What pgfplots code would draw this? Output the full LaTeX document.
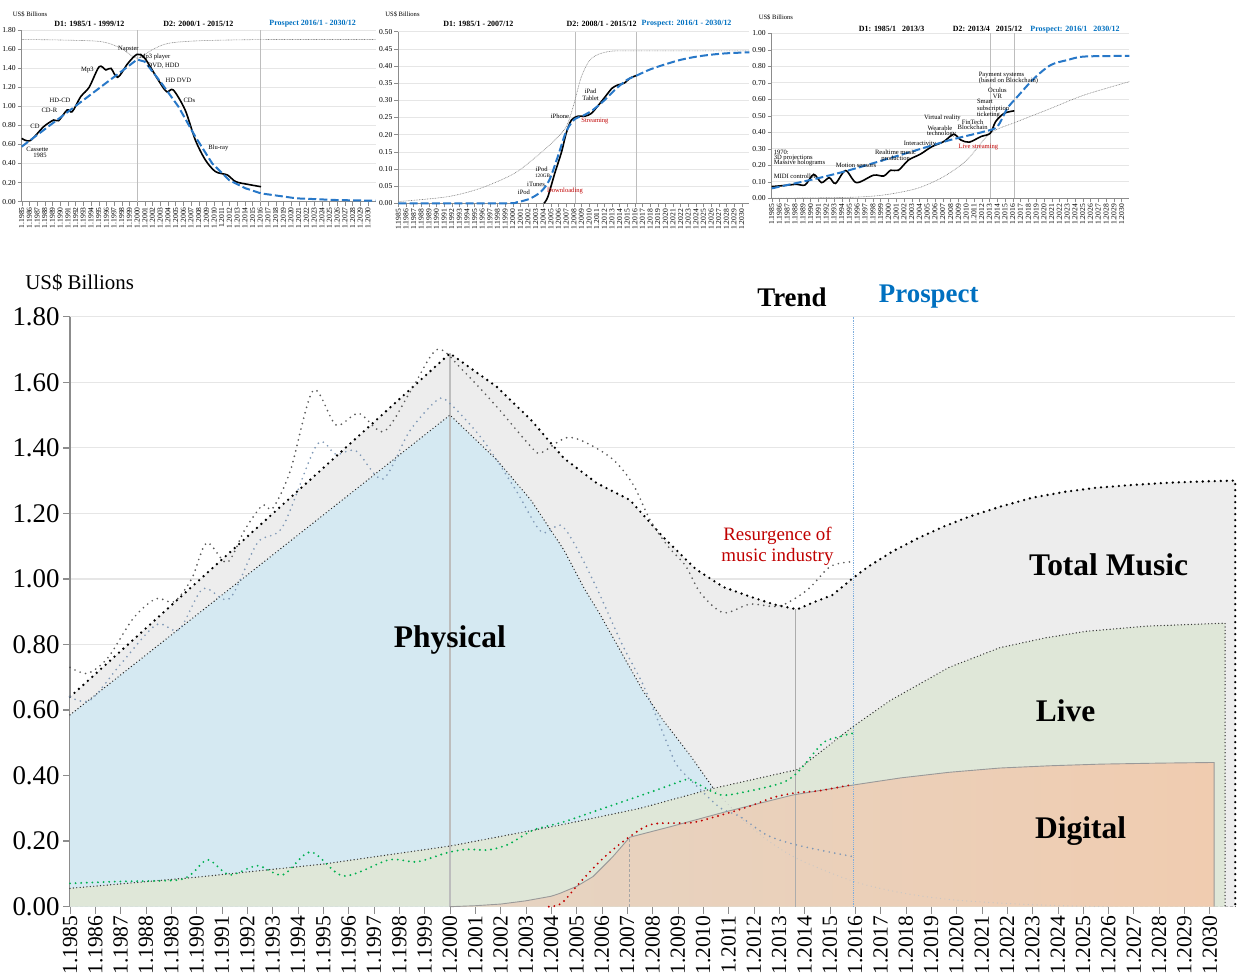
\documentclass[border=0pt]{standalone}
\usepackage{fontspec}
\setmainfont{Liberation Serif}
\usepackage{pgfplots}
\pgfplotsset{compat=1.18}

\definecolor{pblue}{HTML}{0070C0}
\definecolor{dblue}{HTML}{2878C8}
\definecolor{totfill}{HTML}{EDEDED}
\definecolor{physfill}{HTML}{D5E9F2}
\definecolor{livefill}{HTML}{DFE7D8}
\definecolor{digfillA}{HTML}{E5D4C3}
\definecolor{digfillB}{HTML}{F0CCB0}
\definecolor{physline}{HTML}{7F98B6}
\definecolor{liveline}{HTML}{00B050}
\definecolor{digline}{HTML}{C00000}
\definecolor{totline}{HTML}{5A5A5A}
\definecolor{axgray}{HTML}{8C8C8C}
\definecolor{gridc}{HTML}{E6E6E6}
\definecolor{cvline}{HTML}{BDBDBD}
\definecolor{vblue}{HTML}{7FAEDD}

\pgfplotsset{
  mini/.style={
    scale only axis, anchor=south west,
    xmin=1985, xmax=2031, ymin=0,
    axis x line=bottom, axis y line=left,
    axis line style={draw=axgray, line width=0.3bp, -},
    xtick={1985,...,2030}, minor x tick num=11,
    tick align=outside,
    major tick length=2bp, minor tick length=2bp,
    xtick style={draw=axgray, line width=0.12bp},
    ytick style={draw=axgray, line width=0.2bp},
    xticklabel={1.\pgfmathparse{int(round(\tick))}\pgfmathresult},
    x tick label style={rotate=90, anchor=east, font=\fontsize{3.8}{3.8}\selectfont, inner sep=0.6pt},
    y tick label style={font=\fontsize{3.8}{3.8}\selectfont, inner sep=0.8pt},
    yticklabel style={/pgf/number format/.cd, fixed, fixed zerofill, precision=2, assume math mode=true},
    ymajorgrids, grid style={draw=gridc, line width=0.3bp},
    clip=false,
  },
}
\tikzset{
  mtxt/.style={font=\fontsize{3.3}{3.8}\selectfont, inner sep=0pt},
  mtitle/.style={font=\fontsize{4}{4}\selectfont\bfseries, inner sep=0pt},
  bigtxt/.style={font=\fontsize{15.8}{16}\selectfont\bfseries, inner sep=0pt},
}

\begin{document}
\begin{tikzpicture}
\path[use as bounding box] (0,0) rectangle (619.5bp,488bp);

% ================= mini chart 1 : Physical =================
\begin{axis}[mini, at={(10.85bp,387.15bp)}, width=177bp, height=85.85bp, ymax=1.8,
  ytick={0,0.2,0.4,0.6,0.8,1,1.2,1.4,1.6,1.8}]
\addplot[cvline, line width=0.3bp] coordinates {(2000,0) (2000,1.8)};
\addplot[cvline, line width=0.3bp] coordinates {(2016,0) (2016,1.8)};
\addplot[gray, line width=0.3bp, dash pattern=on 0.4bp off 0.4bp, smooth] coordinates {
(1985,1.70) (1990,1.695) (1995.3,1.678) (1997.9,1.608) (2000,1.503) (2001.9,1.59) (2004.05,1.66) (2008.4,1.688) (2017.2,1.70) (2031,1.70)};
\addplot[black, line width=0.8bp, smooth] coordinates {
(1985,0.664) (1986.1,0.64) (1987.85,0.786) (1989.16,0.856) (1989.8,0.849) (1990.9,0.961) (1991.57,0.944) (1992.67,1.101) (1993.76,1.199) (1995.07,1.415) (1995.95,1.381) (1996.6,1.398) (1997.48,1.304) (1998.8,1.45) (2000,1.545) (2001,1.503) (2002.74,1.276) (2003.83,1.153) (2004.7,1.171) (2006.24,0.961) (2007.56,0.647) (2008.87,0.437) (2010.19,0.315) (2011.72,0.28) (2012.81,0.21) (2014.5,0.18) (2016.1,0.157)};
\addplot[dblue, line width=1bp, dash pattern=on 4bp off 1.6bp] coordinates {
(1985,0.577) (2000,1.49) (2001,1.468) (2003.18,1.241) (2005.37,0.996) (2007.56,0.682) (2009.75,0.402) (2011.94,0.227) (2014.1,0.14) (2016.1,0.087) (2020.7,0.035) (2026,0.017) (2031,0.01)};
\end{axis}

% ================= mini chart 2 : Digital =================
\begin{axis}[mini, at={(199.15bp,386.35bp)}, width=175.5bp, height=85.8bp, ymax=0.5,
  ytick={0,0.05,0.1,0.15,0.2,0.25,0.3,0.35,0.4,0.45,0.5}]
\addplot[cvline, line width=0.3bp] coordinates {(2008.2,0) (2008.2,0.5)};
\addplot[cvline, line width=0.3bp] coordinates {(2016.2,0) (2016.2,0.5)};
\addplot[gray, line width=0.3bp, dash pattern=on 0.4bp off 0.4bp, smooth] coordinates {
(1985,0.005) (1991.4,0.019) (1995.8,0.044) (2000.2,0.087) (2003.3,0.14) (2005.5,0.184) (2007,0.223) (2007.9,0.28) (2009,0.369) (2010.3,0.422) (2012.5,0.442) (2016,0.444) (2031,0.444)};
\addplot[black, line width=0.8bp, smooth] coordinates {
(2004.1,0) (2004.6,0.019) (2005.5,0.087) (2006.4,0.15) (2007.0,0.204) (2007.7,0.243) (2008.6,0.254) (2009.5,0.254) (2010.3,0.262) (2011.2,0.285) (2012.1,0.31) (2013.0,0.335) (2013.8,0.345) (2014.6,0.35) (2015.4,0.365) (2016.2,0.372)};
\addplot[dblue, line width=1bp, dash pattern=on 4bp off 1.6bp, smooth] coordinates {
(1985,0) (1999,0) (2000.5,0.003) (2001.5,0.008) (2002.4,0.015) (2003.7,0.034) (2004.8,0.068) (2005.9,0.136) (2007.0,0.209) (2008.1,0.245) (2009.2,0.255) (2010.5,0.272) (2012,0.30) (2013.5,0.333) (2015,0.36) (2016.2,0.372) (2018,0.39) (2020,0.405) (2022,0.418) (2024,0.427) (2026,0.433) (2028,0.437) (2031,0.44)};
\end{axis}

% ================= mini chart 3 : Live =================
\begin{axis}[mini, at={(385.85bp,388.85bp)}, width=178.85bp, height=82.5bp, ymax=1.0,
  ytick={0,0.1,0.2,0.3,0.4,0.5,0.6,0.7,0.8,0.9,1}]
\addplot[cvline, line width=0.3bp] coordinates {(2013.1,0) (2013.1,1)};
\addplot[cvline, line width=0.3bp] coordinates {(2016.2,0) (2016.2,1)};
\addplot[gray, line width=0.3bp, dash pattern=on 0.4bp off 0.4bp, smooth] coordinates {
(1985,0) (1995.1,0.006) (1999.4,0.02) (2003.7,0.06) (2007.1,0.131) (2010.1,0.232) (2013.1,0.394) (2016.6,0.465) (2020.9,0.545) (2025.2,0.626) (2031,0.707)};
\addplot[black, line width=0.8bp, smooth] coordinates {
(1985,0.071) (1986.5,0.077) (1988.2,0.085) (1989.3,0.081) (1990.4,0.145) (1991.4,0.095) (1992.4,0.125) (1993.2,0.09) (1994.5,0.168) (1995.9,0.095) (1998.1,0.14) (1999.4,0.135) (2000.3,0.17) (2001.3,0.17) (2002.6,0.232) (2004.1,0.267) (2005.6,0.313) (2007.1,0.343) (2008.4,0.388) (2009.3,0.354) (2010.4,0.34) (2011.9,0.374) (2013.1,0.394) (2013.8,0.465) (2014.9,0.515) (2016.2,0.53)};
\addplot[dblue, line width=1bp, dash pattern=on 4bp off 1.6bp, smooth] coordinates {
(1985,0.06) (1990.8,0.12) (1995.1,0.172) (1999.4,0.232) (2003.7,0.293) (2008.0,0.354) (2012.3,0.404) (2014.0,0.434) (2015.3,0.545) (2016.6,0.616) (2018.75,0.727) (2020.9,0.808) (2023.05,0.838) (2025.2,0.859) (2031,0.863)};
\end{axis}

% ---------- mini chart texts ----------
\node[mtxt, anchor=west] at (6.3bp,481bp) {US\$ Billions};
\node[mtitle] at (44.7bp,476bp) {D1: 1985/1 - 1999/12};
\node[mtitle] at (99.2bp,476bp) {D2: 2000/1 - 2015/12};
\node[mtitle, text=pblue] at (156.3bp,476bp) {Prospect 2016/1 - 2030/12};
\node[mtxt] at (18.7bp,413.5bp) {Cassette};
\node[mtxt] at (20bp,410.3bp) {1985};
\node[mtxt] at (17.5bp,425bp) {CD};
\node[mtxt] at (24.7bp,433bp) {CD-R};
\node[mtxt] at (30bp,438bp) {HD-CD};
\node[mtxt] at (43.7bp,453bp) {Mp3};
\node[mtxt] at (64.2bp,463.5bp) {Napster};
\node[mtxt] at (77.5bp,459.5bp) {Mp3 player};
\node[mtxt] at (81.7bp,455.2bp) {DVD, HDD};
\node[mtxt] at (89.2bp,448bp) {HD DVD};
\node[mtxt] at (94.7bp,437.7bp) {CDs};
\node[mtxt] at (109.2bp,413.8bp) {Blu-ray};

\node[mtxt, anchor=west] at (192.5bp,481bp) {US\$ Billions};
\node[mtitle] at (239.2bp,476bp) {D1: 1985/1 - 2007/12};
\node[mtitle] at (300.8bp,476bp) {D2: 2008/1 - 2015/12};
\node[mtitle, text=pblue] at (343.3bp,476bp) {Prospect: 2016/1 - 2030/12};
\node[mtxt] at (262bp,391.8bp) {iPod};
\node[mtxt] at (268bp,396bp) {iTunes};
\node[mtxt] at (270.8bp,403.3bp) {iPod};
\node[mtxt, font=\fontsize{2.6}{3}\selectfont] at (271.3bp,400bp) {120GB};
\node[mtxt, text=digline] at (282.5bp,392.5bp) {Downloading};
\node[mtxt] at (280bp,429.7bp) {iPhone};
\node[mtxt, text=digline] at (297.5bp,427.5bp) {Streaming};
\node[mtxt] at (295.3bp,442.5bp) {iPad};
\node[mtxt] at (295.3bp,439bp) {Tablet};

\node[mtxt, anchor=west] at (379.2bp,479.3bp) {US\$ Billions};
\node[mtitle] at (445.8bp,473.3bp) {D1: 1985/1 \ \ 2013/3};
\node[mtitle] at (493.7bp,473.3bp) {D2: 2013/4 \ \ 2015/12};
\node[mtitle, text=pblue] at (537.5bp,473.3bp) {Prospect: 2016/1 \ \ 2030/12};
\node[mtxt, anchor=west] at (386.7bp,411.7bp) {1970:};
\node[mtxt, anchor=west] at (386.7bp,409.2bp) {3D projections};
\node[mtxt, anchor=west] at (386.7bp,406.3bp) {Massive holograms};
\node[mtxt, anchor=west] at (386.7bp,399.7bp) {MIDI controller};
\node[mtxt] at (428bp,405.5bp) {Motion sensors};
\node[mtxt] at (447.8bp,411.7bp) {Realtime music};
\node[mtxt] at (447.8bp,408.5bp) {production};
\node[mtxt] at (460bp,415.8bp) {Interactivity};
\node[mtxt] at (471.2bp,428.8bp) {Virtual reality};
\node[mtxt] at (470bp,423.8bp) {Wearable};
\node[mtxt] at (470.8bp,420.8bp) {technology};
\node[mtxt] at (486.3bp,426.8bp) {FinTech};
\node[mtxt] at (486.3bp,424.2bp) {Blockchain};
\node[mtxt, text=digline] at (489.2bp,414.5bp) {Live streaming};
\node[mtxt, anchor=west] at (488.3bp,437.5bp) {Smart};
\node[mtxt, anchor=west] at (488.3bp,433.7bp) {subscription};
\node[mtxt, anchor=west] at (488.3bp,430.5bp) {ticketing};
\node[mtxt] at (498.7bp,442.7bp) {Oculus};
\node[mtxt] at (498.7bp,439.7bp) {VR};
\node[mtxt, anchor=west] at (489.2bp,450.5bp) {Payment systems};
\node[mtxt, anchor=west] at (489.2bp,447.7bp) {(based on Blockchain)};

% ================= main chart =================
\begin{axis}[
  scale only axis, anchor=south west, at={(35bp,34.65bp)},
  width=582.6bp, height=295bp,
  xmin=1985, xmax=2031, ymin=0, ymax=1.8,
  axis x line=bottom, axis y line=left,
  x axis line style={draw=totline, line width=0.6bp, dash pattern=on 1.5bp off 1bp, -},
  y axis line style={draw=axgray, line width=1bp, -},
  xtick={1985,...,2030}, minor x tick num=11,
  ytick={0,0.2,0.4,0.6,0.8,1,1.2,1.4,1.6,1.8},
  tick align=outside, major tick length=3.5bp, minor tick length=3.5bp,
  xtick style={draw=axgray, line width=0.3bp},
  ytick style={draw=axgray, line width=0.7bp},
  xticklabel={1.\pgfmathparse{int(round(\tick))}\pgfmathresult},
  x tick label style={rotate=90, anchor=east, font=\fontsize{10.8}{10.8}\selectfont, inner sep=0.7pt},
  y tick label style={font=\fontsize{13.5}{13.5}\selectfont, inner sep=1.5pt},
  yticklabel style={/pgf/number format/.cd, fixed, fixed zerofill, precision=2, assume math mode=true},
  ymajorgrids, grid style={draw=gridc, line width=0.6bp},
  clip=false,
]
% --- areas ---
\addplot[draw=none, fill=totfill] coordinates {
(1985,0.640) (2000,1.688) (2001.85,1.586) (2003.2,1.485) (2004.5,1.368) (2005.8,1.292) (2007.1,1.241) (2008.4,1.129) (2009.7,1.03) (2010.8,0.975) (2011.85,0.946) (2012.8,0.922) (2013.7,0.907) (2014.4,0.93) (2015.1,0.951) (2015.9,1.002) (2016.5,1.037) (2017.5,1.085) (2018.5,1.125) (2019.5,1.16) (2020.5,1.19) (2021.7,1.22) (2023,1.248) (2024.3,1.266) (2025.5,1.278) (2027,1.287) (2028.5,1.294) (2030,1.298) (2031,1.30)} \closedcycle;
\addplot[draw=none, fill=physfill] coordinates {
(1985,0.585) (2000,1.50) (2001.85,1.363) (2003.2,1.24) (2004.5,1.088) (2005.3,0.971) (2005.9,0.895) (2007.6,0.661) (2008.4,0.57) (2009.5,0.46) (2010.4,0.361) (2011.5,0.27) (2012.5,0.205) (2013.55,0.153) (2014.8,0.11) (2016.2,0.071) (2018,0.04) (2020,0.02) (2023,0.006) (2026,0)} \closedcycle;
\addplot[draw=none, fill=livefill] coordinates {
(1985,0.056) (1990,0.09) (1995,0.13) (2000,0.185) (2004.35,0.249) (2007.5,0.30) (2010.4,0.361) (2013.75,0.419) (2015.9,0.549) (2017.4,0.63) (2019.7,0.73) (2021.7,0.79) (2023.5,0.82) (2025.1,0.84) (2027.5,0.856) (2030.6,0.865)} \closedcycle;
\addplot[draw=none, left color=digfillA, right color=digfillB] coordinates {
(2000,0) (2001,0.003) (2002,0.008) (2003,0.018) (2004,0.032) (2004.35,0.041) (2005,0.062) (2005.65,0.092) (2006.4,0.15) (2007.1,0.212) (2008.7,0.244) (2010.9,0.29) (2013.55,0.341) (2015.9,0.371) (2017.8,0.393) (2019.7,0.41) (2021.7,0.423) (2023.7,0.43) (2025.7,0.435) (2028,0.438) (2030.17,0.44)} \closedcycle;
% --- reference verticals ---
\addplot[draw=cvline, line width=0.8bp] coordinates {(2000,0) (2000,1.688)};
\addplot[draw=gray!70, line width=0.4bp, dash pattern=on 1.5bp off 1bp] coordinates {(2007.1,0) (2007.1,0.212)};
\addplot[draw=gray!65, line width=0.4bp] coordinates {(2013.65,0) (2013.65,0.907)};
% --- trend lines ---
\addplot[draw=gray!80, line width=0.45bp] coordinates {
(2000,0) (2001,0.003) (2002,0.008) (2003,0.018) (2004,0.032) (2004.35,0.041) (2005,0.062) (2005.65,0.092) (2006.4,0.15) (2007.1,0.212) (2008.7,0.244) (2010.9,0.29) (2013.55,0.341) (2015.9,0.371) (2017.8,0.393) (2019.7,0.41) (2021.7,0.423) (2023.7,0.43) (2025.7,0.435) (2028,0.438) (2030.17,0.44) (2030.17,0)};
\addplot[draw=black!85, line width=0.7bp, dash pattern=on 0pt off 1.7bp, line cap=round] coordinates {
(1985,0.585) (2000,1.50) (2001.85,1.363) (2003.2,1.24) (2004.5,1.088) (2005.3,0.971) (2005.9,0.895) (2007.6,0.661) (2008.4,0.57) (2009.5,0.46) (2010.4,0.361)};
\addplot[draw=gray!45, line width=0.6bp, dash pattern=on 0pt off 2.2bp, line cap=round, smooth] coordinates {
(2010.4,0.361) (2011.5,0.27) (2012.5,0.205) (2013.55,0.153) (2014.8,0.11) (2016.2,0.071) (2018,0.04) (2020,0.02) (2023,0.006) (2026,0)};
\addplot[draw=black!80, line width=0.7bp, dash pattern=on 0pt off 1.7bp, line cap=round] coordinates {
(1985,0.056) (1990,0.09) (1995,0.13) (2000,0.185) (2004.35,0.249) (2007.5,0.30) (2010.4,0.361) (2013.75,0.419) (2015.9,0.549) (2017.4,0.63) (2019.7,0.73) (2021.7,0.79) (2023.5,0.82) (2025.1,0.84) (2027.5,0.856) (2030.6,0.865) (2030.6,0)};
\addplot[draw=black, line width=1.3bp, dash pattern=on 0pt off 3bp, line cap=round] coordinates {
(1985,0.640) (2000,1.688) (2001.85,1.586) (2003.2,1.485) (2004.5,1.368) (2005.8,1.292) (2007.1,1.241) (2008.4,1.129) (2009.7,1.03) (2010.8,0.975) (2011.85,0.946) (2012.8,0.922) (2013.7,0.907) (2014.4,0.93) (2015.1,0.951) (2015.9,1.002) (2016.5,1.037) (2017.5,1.085) (2018.5,1.125) (2019.5,1.16) (2020.5,1.19) (2021.7,1.22) (2023,1.248) (2024.3,1.266) (2025.5,1.278) (2027,1.287) (2028.5,1.294) (2030,1.298) (2031,1.30) (2031,0)};
% --- actual lines ---
\addplot[draw=physline, line width=0.95bp, dash pattern=on 0pt off 2.8bp, line cap=round, smooth] coordinates {
(1985,0.64) (1985.8,0.63) (1987,0.74) (1988.4,0.86) (1989.3,0.845) (1990.25,0.97) (1991.3,0.94) (1992.4,1.11) (1993.4,1.16) (1994.75,1.41) (1995.5,1.38) (1996.3,1.39) (1997.35,1.305) (1998.4,1.45) (1999.5,1.546) (2000,1.535) (2001.3,1.424) (2002.6,1.271) (2003.6,1.144) (2004.35,1.164) (2004.9,1.109) (2005.8,0.971) (2006.8,0.80) (2007.6,0.681) (2008.2,0.57) (2008.7,0.475) (2009.0,0.427) (2009.9,0.356) (2010.7,0.30) (2011.45,0.275) (2012.5,0.219) (2013.55,0.191) (2014.9,0.168) (2015.9,0.153)};
\addplot[draw=totline, line width=0.95bp, dash pattern=on 0pt off 2.8bp, line cap=round, smooth] coordinates {
(1985,0.73) (1985.7,0.712) (1986.5,0.76) (1987.5,0.88) (1988.4,0.94) (1989.1,0.93) (1989.8,1.0) (1990.4,1.11) (1991.2,1.05) (1991.9,1.15) (1992.6,1.225) (1993.0,1.215) (1993.7,1.33) (1994.6,1.575) (1995.5,1.47) (1996.4,1.505) (1997.4,1.45) (1998.5,1.58) (1999.5,1.70) (2000.5,1.637) (2001.85,1.525) (2003.2,1.403) (2003.6,1.385) (2004.75,1.432) (2006.3,1.373) (2007.2,1.292) (2007.9,1.18) (2008.6,1.10) (2009.3,1.04) (2009.9,0.956) (2010.8,0.897) (2011.85,0.923) (2013.0,0.917) (2014.1,0.966) (2015.0,1.037) (2015.8,1.052)};
\addplot[draw=liveline, line width=1.05bp, dash pattern=on 0pt off 2.8bp, line cap=round, smooth] coordinates {
(1985,0.071) (1987,0.077) (1989.2,0.081) (1989.8,0.10) (1990.45,0.143) (1991.3,0.097) (1992.4,0.125) (1993.4,0.097) (1994.5,0.167) (1995.8,0.094) (1997.6,0.143) (1998.7,0.137) (1999.9,0.165) (2000.7,0.175) (2001.5,0.173) (2002.3,0.19) (2003.3,0.234) (2004.5,0.259) (2006.05,0.30) (2007.6,0.341) (2008.7,0.371) (2009.4,0.389) (2009.75,0.376) (2010.7,0.341) (2011.7,0.351) (2013.0,0.375) (2013.5,0.395) (2013.9,0.425) (2014.7,0.498) (2015.2,0.515) (2015.9,0.529)};
\addplot[draw=digline, line width=1.05bp, dash pattern=on 0pt off 2.8bp, line cap=round, smooth] coordinates {
(2003.9,0) (2004.4,0.01) (2005.1,0.071) (2006.05,0.148) (2007.1,0.214) (2008.0,0.252) (2009.5,0.256) (2010.5,0.275) (2011.7,0.303) (2012.8,0.334) (2013.7,0.348) (2014.6,0.354) (2015.9,0.373)};
\addplot[draw=vblue, line width=0.6bp, dash pattern=on 0.6bp off 0.5bp] coordinates {(2015.92,0) (2015.92,1.8)};
% --- texts ---
\node[anchor=west, inner sep=0pt, font=\fontsize{10.5}{10.5}\selectfont] at (axis cs:1983.22,1.903) {US\$ Billions};
\node[inner sep=0pt, font=\fontsize{13.5}{13.5}\selectfont\bfseries] at (axis cs:2013.5,1.86) {Trend};
\node[inner sep=0pt, font=\fontsize{13.5}{13.5}\selectfont\bfseries, text=pblue] at (axis cs:2018.9,1.86) {Prospect};
\node[bigtxt] at (axis cs:2000,0.814) {Physical};
\node[bigtxt] at (axis cs:2026.0,1.042) {Total Music};
\node[bigtxt] at (axis cs:2024.3,0.597) {Live};
\node[bigtxt] at (axis cs:2024.9,0.231) {Digital};
\node[inner sep=0pt, align=center, text=digline, font=\fontsize{9.5}{10.5}\selectfont] at (axis cs:2012.93,1.099) {Resurgence of\\music industry};
\end{axis}
\end{tikzpicture}
\end{document}
